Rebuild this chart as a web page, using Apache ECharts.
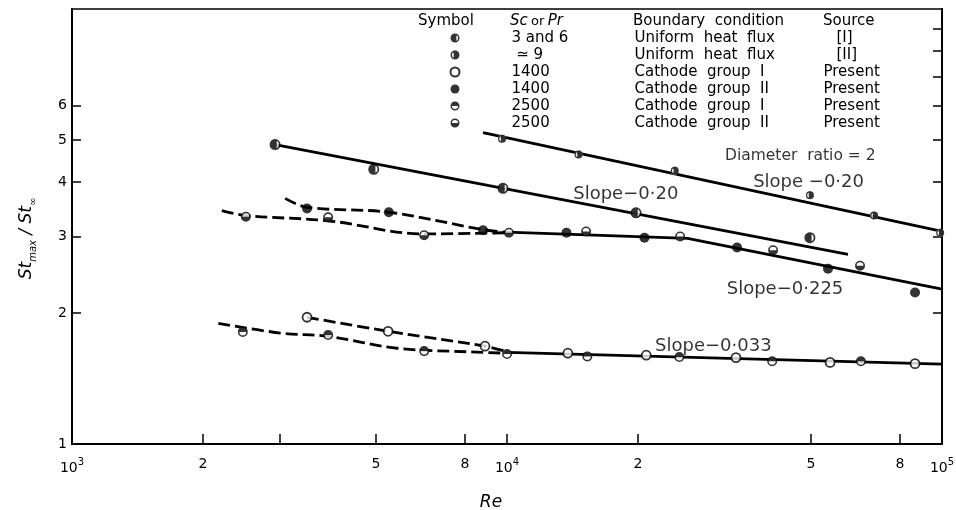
<!DOCTYPE html>
<html><head><meta charset="utf-8">
<script src="https://cdn.jsdelivr.net/npm/echarts@6/dist/echarts.min.js"></script>
<style>html,body{margin:0;padding:0;background:#fff}#c{width:956px;height:510px}</style>
</head><body><div id="c"></div>
<script>
// ---------- data ----------
const seriesNames = ['3 and 6 / [I]', '≃ 9 / [II]', '1400 / group I', '1400 / group II', '2500 / group I', '2500 / group II'];
const scOrPr = ['3 and 6', ' ≃ 9', '1400', '1400', '2500', '2500'];
const boundary = ['Uniform  heat  flux', 'Uniform  heat  flux', 'Cathode  group  I', 'Cathode  group  II', 'Cathode  group  I', 'Cathode  group  II'];
const source = ['[I]', '[II]', 'Present', 'Present', 'Present', 'Present'];

// measured points [Re, St_max/St_inf]
const ptsA = [[2930, 4.88], [4940, 4.28], [9790, 3.87], [19800, 3.40], [49700, 2.98]];
const ptsB = [[9740, 5.03], [14600, 4.63], [24300, 4.25], [49700, 3.73], [69800, 3.35], [99000, 3.06]];
const ptsC = [[3470, 1.956], [5330, 1.816], [8900, 1.678], [13800, 1.617], [20900, 1.60], [33600, 1.58], [55300, 1.54], [86700, 1.53]];
const ptsD = [[3470, 3.48], [5350, 3.41], [8810, 3.10], [13700, 3.06], [20700, 2.98], [33800, 2.83], [54700, 2.53], [86700, 2.23]];
const ptsE = [[2470, 1.81], [3880, 1.78], [6450, 1.635], [10000, 1.61], [15300, 1.59], [24900, 1.585], [40700, 1.55], [65100, 1.55]];
const ptsF = [[2510, 3.33], [3880, 3.32], [6450, 3.02], [10100, 3.06], [15200, 3.08], [25000, 3.00], [40900, 2.79], [64800, 2.57]];

// correlating lines / curves
const lineB = [[8810, 5.2], [100000, 3.08]];
const lineA = [[2930, 4.88], [60800, 2.73]];
const curveD = [[3090, 3.67], [3470, 3.50], [5350, 3.41], [8810, 3.11], [10200, 3.06]];
const curveF = [[2210, 3.44], [2510, 3.35], [3880, 3.26], [6450, 3.04], [10000, 3.06]];
const lineDF = [[10000, 3.07], [26000, 2.97], [100000, 2.27]];
const curveC = [[3470, 1.956], [5330, 1.816], [8900, 1.678], [10000, 1.63]];
const curveE = [[2170, 1.894], [3040, 1.797], [3880, 1.768], [5590, 1.66], [8530, 1.626], [10000, 1.617]];
const lineCE = [[10000, 1.625], [100000, 1.526]];

// annotations
const noteTexts = ['Slope −0·20', 'Slope−0·20', 'Slope−0·225', 'Slope−0·033', 'Diameter  ratio = 2'];
const notePos = [[36800, 3.99], [14200, 3.74], [32000, 2.265], [21900, 1.675], [31700, 4.60]];

// ticks
const xTicks = [1000, 2000, 3000, 5000, 8000, 10000, 20000, 50000, 80000, 100000];
const xLabels = [1000, 2000, 5000, 8000, 10000, 20000, 50000, 80000, 100000];
const yTicksLeft = [2, 3, 4, 5, 6];
const yLabels = [1, 2, 3, 4, 5, 6];
const yTicksRight = [2, 3, 4, 5, 6, 7, 8, 9];

// ---------- chart ----------
const FONT = 'DejaVu Sans';
const ring = 'M10,0A10,10,0,1,1,10,20A10,10,0,1,1,10,0ZM10,3.2A6.8,6.8,0,1,0,10,16.8A6.8,6.8,0,1,0,10,3.2Z';
const symA = 'path://' + ring + 'M13,19.54A10,10,0,1,1,13,0.46Z';
const symB = 'path://' + ring + 'M7,0.46A10,10,0,1,1,7,19.54Z';
const symE = 'path://' + ring + 'M0,10A10,10,0,0,1,20,10Z';
const symF = 'path://' + ring + 'M20,10A10,10,0,0,1,0,10Z';

function fmtX(v) {
  const lg = Math.log10(v);
  const e = Math.round(lg);
  if (Math.abs(lg - e) < 1e-6) return '{b|10}{p|' + e + '}';
  const m = Math.round(v / Math.pow(10, Math.floor(lg + 1e-9)));
  return String(m);
}

function lineSeries(data, dashed, smooth) {
  return {
    type: 'line', data: data, showSymbol: false, symbol: 'none', silent: true,
    smooth: smooth ? 0.35 : false, z: 2,
    lineStyle: { color: '#000', width: 2.8, type: dashed ? [12, 5] : 'solid', cap: 'butt' }
  };
}

function markerSeries(idx, data, symbol, size, filled) {
  return {
    name: seriesNames[idx], type: 'scatter', data: data, symbol: symbol, symbolSize: size,
    symbolKeepAspect: true, z: 5, silent: true,
    itemStyle: filled === 'open'
      ? { color: '#fff', borderColor: '#000', borderWidth: 1.8 }
      : { color: '#000', borderWidth: 0 }
  };
}

const underlay = [].concat(ptsA, ptsB, ptsE, ptsF);

const base = { fontFamily: FONT, fontSize: 15, lineHeight: 17, color: '#000' };
const rowRich = {
  sp: Object.assign({ width: 47 }, base),
  a: Object.assign({ width: 123 }, base),
  b: Object.assign({ width: 189 }, base),
  c: Object.assign({ width: 60 }, base),
  d: Object.assign({ width: 60, padding: [0, 0, 0, 13] }, base)
};

const option = {
  animation: false,
  backgroundColor: '#fff',
  grid: { left: 72, right: 14, top: 9, bottom: 66, show: true, borderColor: '#000', borderWidth: 1.6,
    containLabel: false, outerBoundsMode: 'none' },
  legend: {
    data: seriesNames, orient: 'vertical', left: 449.5, top: 29.5, padding: 0,
    itemWidth: 9, itemHeight: 9, itemGap: 0, selectedMode: false,
    textStyle: { fontFamily: FONT, fontSize: 15, color: '#000', lineHeight: 17, rich: rowRich },
    formatter: function (name) {
      const i = seriesNames.indexOf(name);
      const src = source[i].charAt(0) === '[' ? '{d|' + source[i] + '}' : '{c|' + source[i] + '}';
      return '{sp| }{a|' + scOrPr[i] + '}{b|' + boundary[i] + '}' + src;
    }
  },
  graphic: [
    { type: 'text', left: 418, top: 14, silent: true, style: { text: 'Symbol', font: '15px "DejaVu Sans"', fill: '#000' } },
    { type: 'text', left: 510, top: 14, silent: true, style: {
      text: '{i|Sc} {r|or} {i|Pr}', fill: '#000',
      rich: { i: { fontFamily: FONT, fontStyle: 'italic', fontSize: 15 }, r: { fontFamily: FONT, fontSize: 13 } } } },
    { type: 'text', left: 633, top: 14, silent: true, style: { text: 'Boundary  condition', font: '15px "DejaVu Sans"', fill: '#000' } },
    { type: 'text', left: 823, top: 14, silent: true, style: { text: 'Source', font: '15px "DejaVu Sans"', fill: '#000' } }
  ],
  xAxis: {
    type: 'log', logBase: 10, min: 1000, max: 100000,
    name: 'Re', nameLocation: 'middle', nameGap: 50,
    nameTextStyle: { fontFamily: FONT, fontStyle: 'italic', fontSize: 17, color: '#000', padding: [0, 32, 0, 0] },
    axisLine: { lineStyle: { color: '#000', width: 2 } },
    axisTick: { inside: true, length: 10, customValues: xTicks, lineStyle: { color: '#000', width: 1.5 } },
    minorTick: { show: false },
    splitLine: { show: false },
    axisLabel: {
      customValues: xLabels, formatter: fmtX, margin: 13,
      fontFamily: FONT, fontSize: 14, color: '#000',
      rich: {
        b: { fontFamily: FONT, fontSize: 14, lineHeight: 18, verticalAlign: 'bottom' },
        p: { fontFamily: FONT, fontSize: 10, lineHeight: 10, verticalAlign: 'top' }
      }
    }
  },
  yAxis: [{
    type: 'log', logBase: 10, min: 1, max: 10, position: 'left',
    name: '{i|St}{s|max}{i| / St}{s|∞}', nameLocation: 'middle', nameGap: 34, nameRotate: 90,
    nameTextStyle: {
      color: '#000', padding: [0, 24, 0, 0],
      rich: {
        i: { fontFamily: FONT, fontStyle: 'italic', fontSize: 17, lineHeight: 22 },
        s: { fontFamily: FONT, fontStyle: 'italic', fontSize: 10, lineHeight: 10, verticalAlign: 'bottom' }
      }
    },
    axisLine: { show: true, lineStyle: { color: '#000', width: 2 } },
    axisTick: { inside: true, length: 9, customValues: yTicksLeft, lineStyle: { color: '#000', width: 1.5 } },
    minorTick: { show: false },
    splitLine: { show: false },
    axisLabel: { customValues: yLabels, formatter: function (v) { return String(Math.round(v)); },
      margin: 5, fontFamily: FONT, fontSize: 14, color: '#000' }
  }, {
    type: 'log', logBase: 10, min: 1, max: 10, position: 'right',
    axisLine: { show: true, lineStyle: { color: '#000', width: 2 } },
    axisTick: { show: true, inside: true, length: 9, customValues: yTicksRight, lineStyle: { color: '#000', width: 1.5 } },
    minorTick: { show: false },
    splitLine: { show: false },
    axisLabel: { show: false }
  }],
  series: [
    lineSeries(lineB, false, false),
    lineSeries(lineA, false, false),
    lineSeries(curveD, true, true),
    lineSeries(curveF, true, true),
    lineSeries(lineDF, false, false),
    lineSeries(curveC, true, true),
    lineSeries(curveE, true, true),
    lineSeries(lineCE, false, false),
    { type: 'scatter', data: underlay, symbol: 'circle', symbolSize: 8, z: 4, silent: true,
      itemStyle: { color: '#fff', borderWidth: 0 } },
    markerSeries(0, ptsA, symA, 11, 'fill'),
    markerSeries(1, ptsB, symB, 8, 'fill'),
    markerSeries(2, ptsC, 'circle', 9, 'open'),
    markerSeries(3, ptsD, 'circle', 10, 'fill'),
    markerSeries(4, ptsE, symE, 10, 'fill'),
    markerSeries(5, ptsF, symF, 10, 'fill'),
    { type: 'scatter', data: notePos.map(function (p, i) { return [p[0], p[1], noteTexts[i]]; }),
      symbolSize: 0, silent: true, z: 6,
      label: { show: true, position: 'right', distance: 0,
        formatter: function (p) { return p.dataIndex === 4 ? '{m|' + p.value[2] + '}' : p.value[2]; },
        fontFamily: FONT, fontSize: 18, color: '#000',
        rich: { m: { fontFamily: FONT, fontSize: 15.5, color: '#000' } } } }
  ]
};

const chart = echarts.init(document.getElementById('c'), null, { renderer: 'canvas' });
chart.setOption(option);
</script>
</body></html>
